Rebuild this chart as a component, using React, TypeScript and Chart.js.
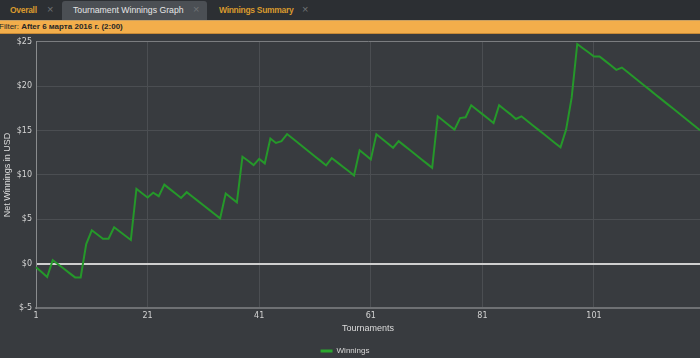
import React, { useEffect, useRef } from "react";
import { Chart, registerables } from "chart.js";

Chart.register(...registerables);

const tournaments: string[] = Array.from({ length: 120 }, (_, i) => String(i + 1));

const winnings: number[] = [
  -0.4, -0.95, -1.5, 0.4, -0.1, -0.58, -1.07, -1.55, -1.55, 2.2,
  3.76, 3.28, 2.8, 2.8, 4.1, 3.62, 3.15, 2.67, 8.43, 7.94,
  7.45, 8.0, 7.6, 8.9, 8.4, 7.9, 7.4, 8.05, 7.56, 7.07,
  6.58, 6.09, 5.6, 5.1, 7.9, 7.4, 6.9, 12.05, 11.6, 11.1,
  11.8, 11.3, 14.1, 13.6, 13.8, 14.6, 14.1, 13.6, 13.09, 12.59,
  12.08, 11.58, 11.07, 11.9, 11.41, 10.92, 10.43, 9.94, 12.77, 12.26,
  11.75, 14.58, 14.07, 13.57, 13.06, 13.8, 13.3, 12.8, 12.3, 11.8,
  11.3, 10.8, 16.6, 16.1, 15.6, 15.1, 16.4, 16.5, 17.85, 17.35,
  16.85, 16.35, 15.85, 17.85, 17.35, 16.85, 16.3, 16.6, 16.1, 15.6,
  15.1, 14.6, 14.1, 13.6, 13.1, 15.1, 18.7, 24.75, 24.28, 23.82,
  23.35, 23.35, 22.85, 22.35, 21.84, 22.1, 21.6, 21.09, 20.59, 20.08,
  19.58, 19.07, 18.57, 18.06, 17.56, 17.05, 16.55, 16.04, 15.54, 15.03,
];

const seriesName = "Winnings";
const yTitle = "Net Winnings in USD";
const xTitle = "Tournaments";
const tabLabels = ["Overall", "Tournament Winnings Graph", "Winnings Summary"];
const filterLabel = "Filter:";
const filterValue = "After 6 марта 2016 г. (2:00)";

const FONT = '"Liberation Sans", Arial, sans-serif';

export default function App() {
  const canvasRef = useRef<HTMLCanvasElement | null>(null);

  useEffect(() => {
    if (!canvasRef.current) return;
    const legendShift = {
      id: "legendShift",
      afterLayout(chart: any) {
        if (chart.legend) {
          chart.legend.left -= 10;
          chart.legend.top += 7;
          chart.legend.bottom += 7;
        }
      },
    };
    const chart = new Chart(canvasRef.current, {
      type: "line",
      data: {
        labels: tournaments,
        datasets: [
          {
            label: seriesName,
            data: winnings,
            borderColor: "#25982a",
            backgroundColor: "#2aa82e",
            borderWidth: 2,
            pointRadius: 0,
            pointHoverRadius: 0,
            tension: 0,
            fill: false,
          },
        ],
      },
      options: {
        animation: false,
        responsive: true,
        maintainAspectRatio: false,
        layout: { autoPadding: false, padding: { top: 8, right: 0, left: 0, bottom: 0 } },
        plugins: {
          tooltip: { enabled: false },
          legend: {
            position: "bottom",
            labels: {
              color: "#d8d8d8",
              boxWidth: 12,
              boxHeight: 3,
              padding: 5,
              font: { family: FONT, size: 8 },
              generateLabels: () => [
                {
                  text: seriesName,
                  fillStyle: "#2aa82e",
                  strokeStyle: "#2aa82e",
                  lineWidth: 0,
                  hidden: false,
                  datasetIndex: 0,
                  fontColor: "#d8d8d8",
                },
              ],
            },
          },
        },
        scales: {
          x: {
            type: "category",
            afterFit: (scale: any) => {
              scale.height = 27;
              scale.paddingRight = 0;
            },
            border: { color: "#6e7073", width: 2 },
            grid: {
              drawTicks: false,
              color: (ctx: any) =>
                ctx.index % 20 === 0 ? "#4b4e52" : "rgba(0,0,0,0)",
              lineWidth: 1,
            },
            ticks: {
              autoSkip: false,
              maxRotation: 0,
              minRotation: 0,
              padding: 3,
              color: "#d4d4d4",
              font: { family: '"DejaVu Sans", sans-serif', size: 8 },
              callback: (_v: any, index: number) =>
                index % 20 === 0 ? tournaments[index] : "",
            },
            title: {
              display: true,
              text: xTitle,
              color: "#dcdcdc",
              font: { family: FONT, size: 9 },
              padding: { top: 0, bottom: 1 },
            },
          },
          y: {
            min: -5,
            max: 25,
            afterFit: (scale: any) => {
              scale.width = 36;
            },
            border: { color: "#8a8c8e", width: 1 },
            grid: {
              drawTicks: false,
              color: (ctx: any) => {
                const v = ctx.tick && ctx.tick.value;
                if (v === 0) return "#cfcfcf";
                if (v === 25) return "#7b7d80";
                if (v === -5) return "#6e7073";
                return "#4b4e52";
              },
              lineWidth: (ctx: any) => {
                const v = ctx.tick && ctx.tick.value;
                if (v === 0 || v === -5) return 2;
                return 1;
              },
            },
            ticks: {
              stepSize: 5,
              padding: 4,
              color: "#d4d4d4",
              font: { family: '"DejaVu Sans", sans-serif', size: 8 },
              callback: (v: any) => "$" + v,
            },
            title: {
              display: true,
              text: yTitle,
              color: "#dcdcdc",
              font: { family: FONT, size: 9 },
              padding: { top: 2, bottom: 0 },
            },
          },
        },
      },
      plugins: [legendShift],
    } as any);
    return () => chart.destroy();
  }, []);

  const tabText = (
    x: number,
    label: string,
    color: string,
    size: number,
    bold: boolean,
    spacing: number
  ) => (
    <span
      style={{
        position: "absolute",
        left: x,
        top: 4,
        fontSize: size,
        lineHeight: "12px",
        color,
        fontWeight: bold ? 700 : 400,
        letterSpacing: spacing,
        whiteSpace: "nowrap",
      }}
    >
      {label}
    </span>
  );
  const closeX = (x: number) => (
    <span
      style={{
        position: "absolute",
        left: x,
        top: 3,
        fontSize: 11,
        lineHeight: "12px",
        color: "#6f7275",
      }}
    >
      ×
    </span>
  );

  return (
    <div
      style={{
        position: "fixed",
        left: 0,
        top: 0,
        width: 700,
        height: 358,
        overflow: "hidden",
        background: "#383b3f",
        fontFamily: FONT,
      }}
    >
      <div
        style={{
          position: "absolute",
          left: 0,
          top: 0,
          width: 700,
          height: 20,
          background: "#2c2f33",
        }}
      >
        <div
          style={{
            position: "absolute",
            left: 62,
            top: 1,
            width: 145,
            height: 19,
            background: "#4b4f54",
            borderRadius: "3px 3px 0 0",
          }}
        />
        {tabText(10, tabLabels[0], "#d99a2e", 8.5, true, -0.3)}
        {closeX(47)}
        {tabText(73, tabLabels[1], "#e6e6e6", 8.7, false, 0)}
        {closeX(193)}
        {tabText(219, tabLabels[2], "#d99a2e", 8.5, true, -0.3)}
        {closeX(302)}
      </div>
      <div
        style={{
          position: "absolute",
          left: 0,
          top: 20,
          width: 700,
          height: 12,
          background: "#f3ae4b",
          borderTop: "1px solid #c9a062",
          borderBottom: "1px solid #c88a36",
        }}
      >
        <span
          style={{
            position: "absolute",
            left: -1,
            top: 0,
            fontSize: 8,
            lineHeight: "12px",
            color: "#262626",
            whiteSpace: "nowrap",
          }}
        >
          {filterLabel} <b>{filterValue}</b>
        </span>
      </div>
      <div
        style={{
          position: "absolute",
          left: 0,
          top: 33,
          width: 700,
          height: 325,
        }}
      >
        <canvas ref={canvasRef} />
      </div>
    </div>
  );
}
